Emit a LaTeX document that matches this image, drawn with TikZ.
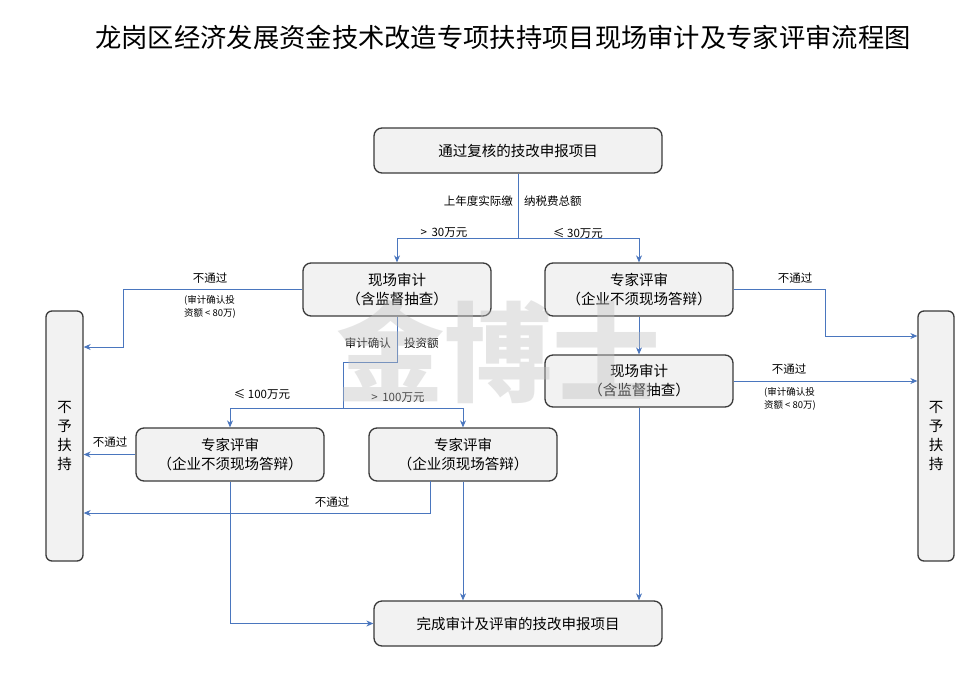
\documentclass[tikz,border=0pt]{standalone}
\usepackage{fontspec}
\setmainfont{Noto Sans CJK SC}
\usetikzlibrary{arrows.meta,calc}
\definecolor{lineblue}{HTML}{4A76BE}
\definecolor{boxfill}{HTML}{F2F2F2}
\definecolor{boxdraw}{HTML}{3A3A3A}
\tikzset{
  box/.style={draw=boxdraw, fill=boxfill, rounded corners=8pt, line width=1.3pt,
              align=center, font=\fontsize{14.5}{19}\selectfont, inner sep=2pt},
  conn/.style={draw=lineblue, line width=1pt},
  arr/.style={conn, -{Stealth[length=7pt,width=6pt]}},
  lab/.style={font=\fontsize{11.5}{14}\selectfont, inner sep=1pt},
  slab/.style={font=\fontsize{9.5}{13}\selectfont, inner sep=1pt, align=left},
}
\begin{document}
\begin{tikzpicture}[x=1pt,y=-1pt]
\useasboundingbox (0,0) rectangle (980,694);
\fill[white] (0,0) rectangle (980,694);

\node[font=\fontsize{26.3}{30}\selectfont, inner sep=0] (title) at (503,37) {龙岗区经济发展资金技术改造专项扶持项目现场审计及专家评审流程图};

% boxes
\node[box, minimum width=288pt, minimum height=45pt] (top) at (518,150.5) {通过复核的技改申报项目};
\node[box, minimum width=188pt, minimum height=53pt] (xc1) at (397,289.5) {现场审计\\（含监督抽查）};
\node[box, minimum width=188pt, minimum height=53pt] (zj1) at (639,289.5) {专家评审\\（企业不须现场答辩）};
\node[box, minimum width=188pt, minimum height=52pt] (xc2) at (639,381) {现场审计\\（含监督抽查）};
\node[box, minimum width=188pt, minimum height=53pt] (zj2) at (230,454.5) {专家评审\\（企业不须现场答辩）};
\node[box, minimum width=188pt, minimum height=53pt] (zj3) at (463,454.5) {专家评审\\（企业须现场答辩）};
\node[box, minimum width=288pt, minimum height=45pt] (bot) at (518,623.5) {完成审计及评审的技改申报项目};
\node[box, minimum width=37pt, minimum height=250pt, rounded corners=6pt] (L) at (64.5,436) {不\\予\\扶\\持};
\node[box, minimum width=36pt, minimum height=250pt, rounded corners=6pt] (R) at (936,436) {不\\予\\扶\\持};

% top split
\coordinate (s1) at (518,238);
\draw[conn] (top.south) -- (s1);
\draw[arr] (s1) -| (xc1.north);
\draw[arr] (s1) -| (zj1.north);
\node[lab, anchor=east] at (514,201) {上年度实际缴};
\node[lab, anchor=west] at (523,201) {纳税费总额};
\node[lab] at (444,233) {>\, 30万元};
\node[lab] at (578,233) {≤ 30万元};

% xc1 fail -> L
\coordinate (c1) at (123,289.5);
\coordinate (c1b) at (123,347);
\draw[arr] (xc1.west) -- (c1) -- (c1b) -- (c1b -| L.east);
\node[lab] at (210,278) {不通过};
\node[slab] at (210,307) {(审计确认投\\资额 < 80万)};

% xc1 split
\coordinate (c2) at (397,362);
\coordinate (c2b) at (343,362);
\coordinate (c2c) at (343,408);
\draw[conn] (xc1.south) -- (c2) -- (c2b) -- (c2c);
\draw[arr] (c2c) -| (zj2.north);
\draw[arr] (c2c) -| (zj3.north);
\node[lab, anchor=east] at (392,343) {审计确认};
\node[lab, anchor=west] at (403,343) {投资额};
\node[lab] at (262,394) {≤ 100万元};
\node[lab] at (398,398) {>\, 100万元};

% zj1 fail -> R
\coordinate (c3) at (825,289.5);
\coordinate (c3b) at (825,336);
\draw[arr] (zj1.east) -- (c3) -- (c3b) -- (c3b -| R.west);
\node[lab] at (795,278) {不通过};

% zj1 -> xc2
\draw[arr] (zj1.south) -- (xc2.north);

% xc2 fail -> R
\draw[arr] (xc2.east) -- (xc2.east -| R.west);
\node[lab] at (789,369) {不通过};
\node[slab] at (790,399) {(审计确认投\\资额 < 80万)};

% xc2 -> bot
\draw[arr] (xc2.south) -- (xc2.south |- bot.north);

% zj2 fail -> L
\draw[arr] (zj2.west) -- (zj2.west -| L.east);
\node[lab] at (110,442) {不通过};

% zj2 -> bot
\coordinate (c4) at (230,623.5);
\draw[arr] (zj2.south) -- (c4) -- (bot.west);

% zj3 fail -> L
\coordinate (c5) at (430,481);
\coordinate (c5b) at (430,513);
\draw[arr] (c5) -- (c5b) -- (c5b -| L.east);
\node[lab] at (332,502) {不通过};

% zj3 -> bot
\draw[arr] (zj3.south) -- (zj3.south |- bot.north);

% watermark
\node[font=\fontsize{108}{110}\selectfont\bfseries, text=black!25, opacity=0.4, inner sep=0] (wm) at (498,352) {金博士};
\end{tikzpicture}
\end{document}
